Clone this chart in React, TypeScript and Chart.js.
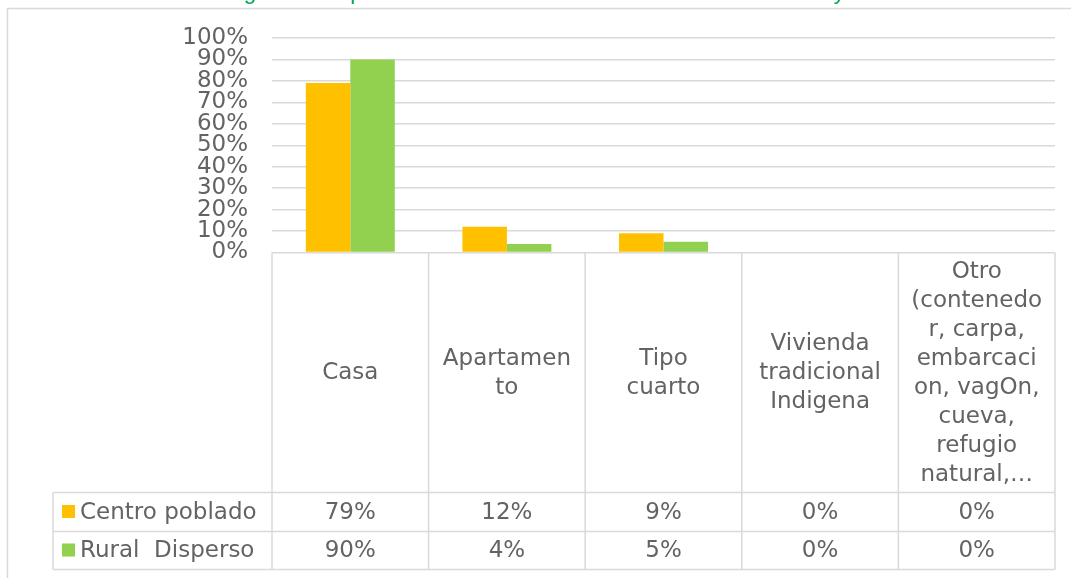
import React, { useEffect, useRef } from "react";
import { Chart, registerables } from "chart.js";

Chart.register(...registerables);

// ---------- data ----------
const categories: string[][] = [
  ["Casa"],
  ["Apartamen", "to"],
  ["Tipo", "cuarto"],
  ["Vivienda", "tradicional", "Indigena"],
  ["Otro", "(contenedo", "r, carpa,", "embarcaci", "on, vagOn,", "cueva,", "refugio", "natural,…"],
];
const seriesNames: string[] = ["Centro poblado", "Rural  Disperso"];
const centroPoblado: number[] = [79, 12, 9, 0, 0];
const ruralDisperso: number[] = [90, 4, 5, 0, 0];
const tableCentroPoblado: string[] = ["79%", "12%", "9%", "0%", "0%"];
const tableRuralDisperso: string[] = ["90%", "4%", "5%", "0%", "0%"];
const yMin = 0;
const yMax = 100;
const yStep = 10;
const titleText = "Figura 13. Tipo de vivienda en las veredas del sector urbano y rural";

// ---------- style ----------
const FONT = "'DejaVu Sans', Verdana, sans-serif";
const TEXT = "#636363";
const GRID = "#D9D9D9";
const ORANGE = "#FFC000";
const GREEN = "#92D050";

const tablePlugin = {
  id: "dataTable",
  afterDraw(chart: any) {
    const ctx: CanvasRenderingContext2D = chart.ctx;
    const xs = chart.scales.x;
    const ys = chart.scales.y;
    const n = categories.length;
    const half = (xs.getPixelForValue(1) - xs.getPixelForValue(0)) / 2;
    const left = xs.getPixelForValue(0) - half;
    const right = xs.getPixelForValue(n - 1) + half;
    const top = ys.getPixelForValue(0);
    const labelBottom = xs.bottom;
    const row1Bottom = labelBottom + 39;
    const row2Bottom = row1Bottom + 38;
    const tableLeft = 53;

    ctx.save();
    // outer frame
    ctx.strokeStyle = GRID;
    ctx.lineWidth = 1.5;
    ctx.strokeRect(7.5, 8.5, 1200, 700);

    // title (clipped at top)
    ctx.fillStyle = "#00A651";
    ctx.textAlign = "left";
    ctx.textBaseline = "alphabetic";
    let fs = 24;
    ctx.font = `${fs}px 'Liberation Sans', Arial, sans-serif`;
    const gi = titleText.indexOf("g");
    const yi = titleText.lastIndexOf("y");
    const d0 = ctx.measureText(titleText.slice(0, yi)).width - ctx.measureText(titleText.slice(0, gi)).width;
    fs = fs * (590 / d0);
    ctx.font = `${fs}px 'Liberation Sans', Arial, sans-serif`;
    const gx = ctx.measureText(titleText.slice(0, gi)).width + ctx.measureText("g").width / 2;
    ctx.fillText(titleText, 250 - gx, -1);

    // lines
    ctx.strokeStyle = GRID;
    ctx.lineWidth = 1.5;
    ctx.beginPath();
    for (let i = 0; i <= n; i++) {
      const x = left + i * 2 * half;
      ctx.moveTo(x, top);
      ctx.lineTo(x, row2Bottom);
    }
    ctx.moveTo(tableLeft, labelBottom);
    ctx.lineTo(tableLeft, row2Bottom);
    [labelBottom, row1Bottom, row2Bottom].forEach((yy) => {
      ctx.moveTo(tableLeft, yy);
      ctx.lineTo(right, yy);
    });
    ctx.stroke();

    // category labels
    ctx.fillStyle = TEXT;
    ctx.font = `23px ${FONT}`;
    ctx.textAlign = "center";
    ctx.textBaseline = "middle";
    const lh = 29;
    const midY = (top + labelBottom) / 2 + 1;
    categories.forEach((lines, i) => {
      const cx = xs.getPixelForValue(i);
      const startY = midY - ((lines.length - 1) * lh) / 2;
      lines.forEach((ln, j) => ctx.fillText(ln, cx, startY + j * lh));
    });

    // table rows
    const rows = [
      { name: seriesNames[0], color: ORANGE, vals: tableCentroPoblado, y: (labelBottom + row1Bottom) / 2 },
      { name: seriesNames[1], color: GREEN, vals: tableRuralDisperso, y: (row1Bottom + row2Bottom) / 2 },
    ];
    rows.forEach((r) => {
      ctx.fillStyle = r.color;
      ctx.fillRect(62, r.y - 7, 13, 13);
      ctx.fillStyle = TEXT;
      ctx.textAlign = "left";
      ctx.fillText(r.name, 80, r.y + 1);
      ctx.textAlign = "center";
      r.vals.forEach((v, i) => ctx.fillText(v, xs.getPixelForValue(i), r.y + 1));
    });
    ctx.restore();
  },
};

export default function App() {
  const ref = useRef<HTMLCanvasElement | null>(null);
  useEffect(() => {
    if (!ref.current) return;
    const chart = new Chart(ref.current, {
      type: "bar",
      data: {
        labels: categories.map((c) => c.join(" ")),
        datasets: [
          {
            label: seriesNames[0],
            data: centroPoblado,
            backgroundColor: ORANGE,
            categoryPercentage: 0.568,
            barPercentage: 1,
          },
          {
            label: seriesNames[1],
            data: ruralDisperso,
            backgroundColor: GREEN,
            categoryPercentage: 0.568,
            barPercentage: 1,
          },
        ],
      },
      options: {
        animation: false,
        responsive: false,
        layout: { padding: { left: 0, right: 16, top: 38, bottom: 85.5 } },
        plugins: {
          legend: { display: false },
          tooltip: { enabled: false },
          title: { display: false },
        },
        scales: {
          x: {
            grid: { display: false },
            border: { display: false },
            ticks: { display: false },
            afterFit: (s: any) => {
              s.height = 240;
            },
          },
          y: {
            min: yMin,
            max: yMax,
            ticks: {
              stepSize: yStep,
              autoSkip: false,
              padding: 24,
              color: TEXT,
              font: { family: FONT, size: 23, lineHeight: 1 },
              callback: (v: any) => v + "%",
            },
            grid: { color: GRID, lineWidth: 1.5, drawTicks: false },
            border: { display: false },
            afterFit: (s: any) => {
              s.width = 272;
            },
          },
        },
      },
      plugins: [tablePlugin],
    } as any);
    return () => chart.destroy();
  }, []);
  return (
    <canvas
      ref={ref}
      width={1071}
      height={578}
      style={{ position: "absolute", left: 0, top: 0, background: "#fff" }}
    />
  );
}
